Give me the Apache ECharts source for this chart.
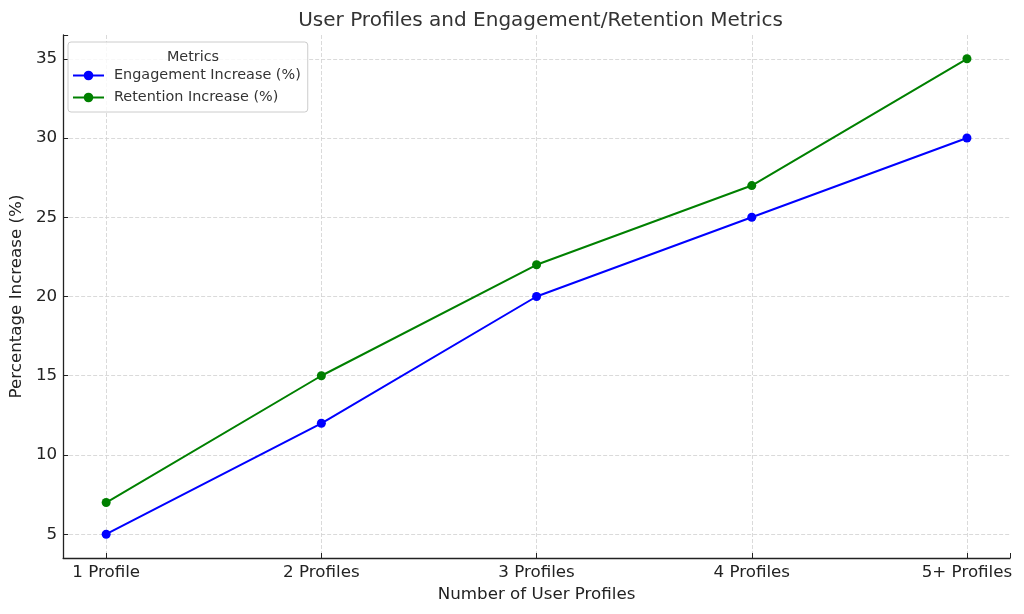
<!DOCTYPE html>
<html>
<head>
<meta charset="utf-8">
<script src="https://cdn.jsdelivr.net/npm/echarts@6/dist/echarts.min.js"></script>
<style>html,body{margin:0;padding:0;background:#fff}#c{width:1024px;height:614px}</style>
</head>
<body>
<div id="c"></div>
<script>
const categories = ['1 Profile', '2 Profiles', '3 Profiles', '4 Profiles', '5+ Profiles'];
const engagement = [5, 12, 20, 25, 30];
const retention = [7, 15, 22, 27, 35];
const seriesNames = ['Engagement Increase (%)', 'Retention Increase (%)'];
const seriesColors = ['#0000ff', '#008000'];
const yTicks = [5, 10, 15, 20, 25, 30, 35];

const FONT = 'DejaVu Sans';
const TXT = '#222222';

function pairs(vals) { return vals.map((v, i) => [i, v]); }

const chart = echarts.init(document.getElementById('c'));
chart.setOption({
  animation: false,
  backgroundColor: '#ffffff',
  textStyle: { fontFamily: FONT },
  title: [
    { text: 'User Profiles and Engagement/Retention Metrics', left: 535.5, top: 6, textAlign: 'center',
      textStyle: { fontFamily: FONT, fontSize: 20, fontWeight: 'normal', color: '#333333' } },
    { text: 'Metrics', left: 188, top: 45, textAlign: 'center',
      textStyle: { fontFamily: FONT, fontSize: 14.4, fontWeight: 'normal', color: '#333333' } }
  ],
  legend: {
    orient: 'vertical', left: 68, top: 42,
    padding: [25, 7, 6, 4],
    itemWidth: 31, itemHeight: 12, itemGap: 5,
    backgroundColor: 'rgba(255,255,255,0.8)',
    borderColor: '#cccccc', borderWidth: 1, borderRadius: 3,
    textStyle: { fontFamily: FONT, fontSize: 14.4, color: '#333333', lineHeight: 17, padding: [0, 0, 0, 5] },
    data: seriesNames
  },
  grid: { left: 61, right: 14, top: 35, bottom: 56, containLabel: false },
  xAxis: {
    type: 'value', min: -0.2, max: 4.2, minInterval: 1, maxInterval: 1,
    name: 'Number of User Profiles', nameLocation: 'middle', nameGap: 27,
    nameTextStyle: { fontFamily: FONT, fontSize: 16.7, color: TXT },
    axisLine: { show: true, onZero: false, lineStyle: { color: '#222222', width: 1.3 } },
    axisTick: { show: true, inside: true, length: 5, lineStyle: { color: '#222222' } },
    axisLabel: { fontFamily: FONT, fontSize: 16.7, color: TXT, margin: 6,
      formatter: v => (Number.isInteger(v) && categories[v] !== undefined) ? categories[v] : '' },
    splitLine: { show: true, showMinLine: false, showMaxLine: false,
      lineStyle: { color: '#d0d0d0', type: [4, 2], width: 0.8 } }
  },
  yAxis: {
    type: 'value', min: 3.5, max: 36.5, minInterval: 5, maxInterval: 5,
    name: 'Percentage Increase (%)', nameLocation: 'middle', nameGap: 32,
    nameTextStyle: { fontFamily: FONT, fontSize: 16.7, color: TXT },
    axisLine: { show: true, onZero: false, lineStyle: { color: '#222222', width: 1.3 } },
    axisTick: { show: true, inside: true, length: 5, lineStyle: { color: '#222222' } },
    axisLabel: { fontFamily: FONT, fontSize: 16.7, color: TXT, margin: 6,
      formatter: v => yTicks.includes(v) ? String(v) : '' },
    splitLine: { show: true, showMinLine: false, showMaxLine: false,
      lineStyle: { color: '#d0d0d0', type: [4, 2], width: 0.8 } }
  },
  series: [
    { name: seriesNames[0], type: 'line', data: pairs(engagement), color: seriesColors[0],
      symbol: 'circle', symbolSize: 9, lineStyle: { width: 2 }, itemStyle: { color: seriesColors[0] } },
    { name: seriesNames[1], type: 'line', data: pairs(retention), color: seriesColors[1],
      symbol: 'circle', symbolSize: 9, lineStyle: { width: 2 }, itemStyle: { color: seriesColors[1] } }
  ]
});
</script>
</body>
</html>
